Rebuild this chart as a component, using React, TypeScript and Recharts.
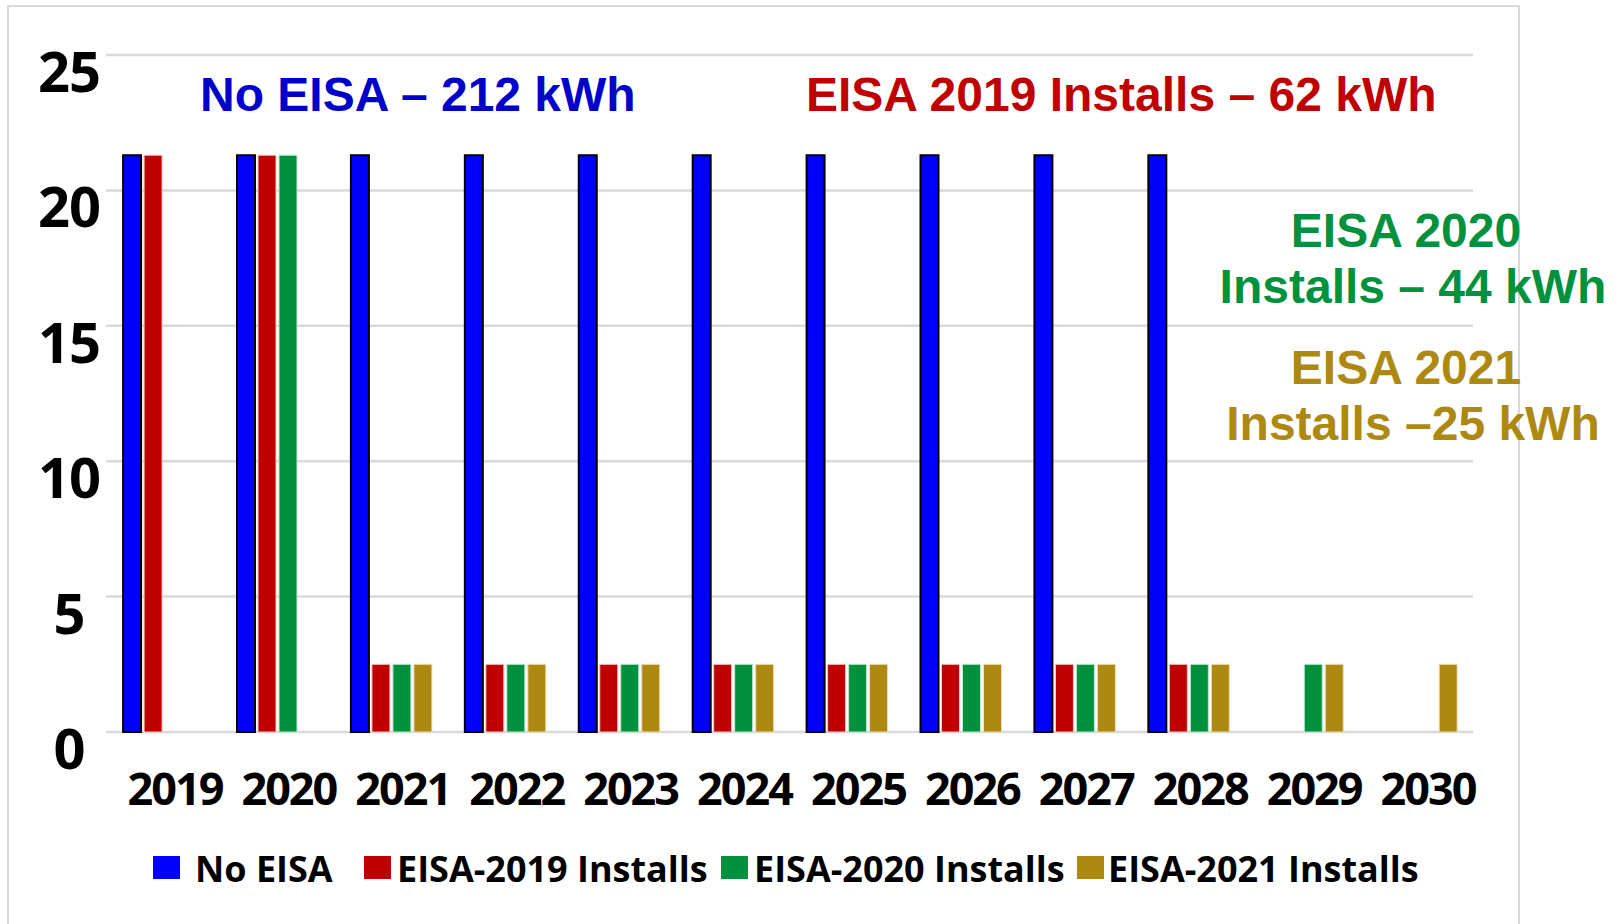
import React from "react";
import { BarChart, Bar, XAxis, YAxis, CartesianGrid } from "recharts";

const years = ["2019", "2020", "2021", "2022", "2023", "2024", "2025", "2026", "2027", "2028", "2029", "2030"];
const noEisa = [21.3, 21.3, 21.3, 21.3, 21.3, 21.3, 21.3, 21.3, 21.3, 21.3, null, null];
const eisa2019 = [21.3, 21.3, 2.5, 2.5, 2.5, 2.5, 2.5, 2.5, 2.5, 2.5, null, null];
const eisa2020 = [null, 21.3, 2.5, 2.5, 2.5, 2.5, 2.5, 2.5, 2.5, 2.5, 2.5, null];
const eisa2021 = [null, null, 2.5, 2.5, 2.5, 2.5, 2.5, 2.5, 2.5, 2.5, 2.5, 2.5];
const yTicks = [0, 5, 10, 15, 20, 25];

const series = [
  { key: "noEisa", name: "No EISA", color: "#0000ff", stroke: "#000000", strokeWidth: 2 },
  { key: "eisa2019", name: "EISA-2019 Installs", color: "#c00000", stroke: "#f3c9c9", strokeWidth: 1 },
  { key: "eisa2020", name: "EISA-2020 Installs", color: "#00913f", stroke: "#c2e6cf", strokeWidth: 1 },
  { key: "eisa2021", name: "EISA-2021 Installs", color: "#ae8912", stroke: "#ecdfb5", strokeWidth: 1 },
];

const data = years.map((year, i) => ({
  year,
  noEisa: noEisa[i],
  eisa2019: eisa2019[i],
  eisa2020: eisa2020[i],
  eisa2021: eisa2021[i],
}));

const legendPos = [
  { box: 153, text: 195 },
  { box: 364, text: 397 },
  { box: 721, text: 754 },
  { box: 1077, text: 1108 },
];

const numFont = "'Open Sans', sans-serif";
const noteFont = "'Liberation Sans', Arial, sans-serif";

const YTick = (props: any) => {
  const { y, payload } = props;
  return (
    <text x={69} y={y + 37} textAnchor="middle" fontFamily={numFont} fontWeight={700} fontSize={56} letterSpacing={-1} fill="#000">
      {payload.value}
    </text>
  );
};

const XTick = (props: any) => {
  const { x, payload } = props;
  return (
    <text x={x + 12} y={805} textAnchor="middle" fontFamily={numFont} fontWeight={700} fontSize={45} letterSpacing={-2} fill="#000">
      {payload.value}
    </text>
  );
};

const note = (color: string): React.CSSProperties => ({
  position: "absolute",
  fontFamily: noteFont,
  fontWeight: 700,
  fontSize: 48,
  lineHeight: "56px",
  color,
  whiteSpace: "nowrap",
});

export default function App() {
  return (
    <div style={{ position: "fixed", left: 0, top: 0, width: 1618, height: 924, overflow: "hidden", background: "#fff" }}>
      <div style={{ position: "absolute", left: 7, top: 5, width: 1509, height: 960, border: "2px solid #d9d9d9" }} />
      <div style={{ position: "absolute", left: 0, top: 0 }}>
        <BarChart
          width={1618}
          height={924}
          data={data}
          margin={{ top: 55, right: 145, bottom: 162, left: 0 }}
          barCategoryGap="15%"
          barGap={3}
        >
          <CartesianGrid vertical={false} stroke="#d9d9d9" strokeWidth={2.5} />
          <XAxis dataKey="year" height={30} axisLine={false} tickLine={false} tick={<XTick />} interval={0} />
          <YAxis width={106} domain={[0, 25]} ticks={yTicks} axisLine={false} tickLine={false} tick={<YTick />} />
          {series.map((s) => (
            <Bar
              key={s.key}
              dataKey={s.key}
              name={s.name}
              fill={s.color}
              stroke={s.stroke}
              strokeWidth={s.strokeWidth}
              isAnimationActive={false}
            />
          ))}
        </BarChart>
      </div>

      <div style={{ ...note("#0000cc"), left: 200, top: 67 }}>No EISA – 212 kWh</div>
      <div style={{ ...note("#c00000"), left: 806, top: 67 }}>EISA 2019 Installs – 62 kWh</div>
      <div style={{ ...note("#00913f"), left: 1206, width: 400, top: 203, textAlign: "center" }}>EISA 2020</div>
      <div style={{ ...note("#00913f"), left: 1213, width: 400, top: 259, textAlign: "center" }}>Installs – 44 kWh</div>
      <div style={{ ...note("#ae8912"), left: 1206, width: 400, top: 340, textAlign: "center" }}>EISA 2021</div>
      <div style={{ ...note("#ae8912"), left: 1213, width: 400, top: 396, textAlign: "center" }}>Installs –25 kWh</div>

      {series.map((s, i) => (
        <React.Fragment key={s.key}>
          <div style={{ position: "absolute", left: legendPos[i].box, top: 856, width: 27, height: 23, background: s.color }} />
          <div
            style={{
              position: "absolute",
              left: legendPos[i].text,
              top: 846,
              fontFamily: numFont,
              fontWeight: 700,
              fontSize: 36,
              lineHeight: "46px",
              color: "#000",
              whiteSpace: "nowrap",
            }}
          >
            {s.name}
          </div>
        </React.Fragment>
      ))}
    </div>
  );
}
